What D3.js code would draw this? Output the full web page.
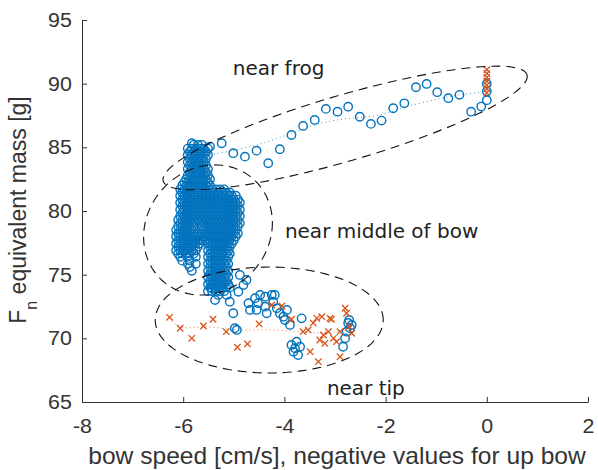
<!DOCTYPE html>
<html><head><meta charset="utf-8">
<script src="https://cdn.jsdelivr.net/npm/d3@7"></script>
<style>body{margin:0;background:#fff;} svg{display:block;}</style>
</head><body>
<svg id="chart" width="598" height="470"></svg>
<script>
// ---------- data ----------
const xTicks = [-8, -6, -4, -2, 0, 2];
const yTicks = [65, 70, 75, 80, 85, 90, 95];
const xLabelText = "bow speed [cm/s], negative values for up bow";
const yLabelMain = "F";
const yLabelSub = "n";
const yLabelRest = " equivalent mass [g]";

// blue circles along the frog part of the stroke
const blueFrog = [
  [-5.83,85.32],[-5.47,85.06],[-5.24,85.32],[-5.01,84.54],[-4.78,84.27],[-4.55,84.74],
  [-4.32,83.75],[-4.09,84.85],[-3.86,85.97],[-3.63,86.68],[-3.40,87.15],[-3.18,88.02],
  [-2.95,87.80],[-2.74,88.19],[-2.51,87.40],[-2.29,86.84],[-2.08,87.10],[-1.85,88.07],
  [-1.63,88.46],[-1.40,89.72],[-1.19,89.98],[-0.98,89.33],[-0.76,88.86],[-0.54,89.12],
  [-0.31,87.80],[-0.11,88.20],[0,88.70],[0,89.40],[0,90.00]
];

// dense blue cluster around the middle of the bow: rows of [y, x values]
const blueClusterRows = [
  [85.2, [-5.79,-5.71,-5.63]],
  [84.9, [-5.91,-5.83,-5.75,-5.67,-5.59,-5.51]],
  [84.65,[-5.87,-5.79,-5.71,-5.63,-5.55]],
  [84.4, [-5.91,-5.83,-5.75,-5.67,-5.59,-5.51]],
  [84.1, [-5.87,-5.79,-5.71,-5.63,-5.55]],
  [83.85,[-5.91,-5.83,-5.75,-5.67,-5.59]],
  [83.6, [-5.87,-5.79,-5.71,-5.63,-5.55]],
  [83.3, [-5.91,-5.83,-5.75,-5.67,-5.59,-5.51]],
  [83.05,[-5.87,-5.79,-5.71,-5.63,-5.55]],
  [82.8, [-5.91,-5.83,-5.75,-5.67,-5.59,-5.51]],
  [82.5, [-5.94,-5.87,-5.79,-5.71,-5.63,-5.55,-5.47]],
  [82.25,[-5.98,-5.91,-5.83,-5.75,-5.67,-5.59,-5.51]],
  [82.0, [-6.02,-5.94,-5.87,-5.79,-5.71,-5.63,-5.55,-5.47]],
  [81.7, [-6.06,-5.98,-5.91,-5.83,-5.75,-5.67,-5.59,-5.51,-5.43,-5.35,-5.27,-5.19]],
  [81.45,[-6.02,-5.94,-5.87,-5.79,-5.71,-5.63,-5.55,-5.47,-5.39,-5.31,-5.23,-5.15,-5.08]],
  [81.2, [-6.06,-5.98,-5.91,-5.83,-5.75,-5.67,-5.59,-5.51,-5.43,-5.35,-5.27,-5.19,-5.11,-5.04,-4.96]],
  [80.9, [-6.02,-5.94,-5.87,-5.79,-5.71,-5.63,-5.55,-5.47,-5.39,-5.31,-5.23,-5.15,-5.08,-5.00,-4.92]],
  [80.65,[-6.06,-5.98,-5.91,-5.83,-5.75,-5.67,-5.59,-5.51,-5.43,-5.35,-5.27,-5.19,-5.11,-5.04,-4.96,-4.88]],
  [80.4, [-6.02,-5.94,-5.87,-5.79,-5.71,-5.63,-5.55,-5.47,-5.39,-5.31,-5.23,-5.15,-5.08,-5.00,-4.92]],
  [80.1, [-6.06,-5.98,-5.91,-5.83,-5.75,-5.67,-5.59,-5.51,-5.43,-5.35,-5.27,-5.19,-5.11,-5.04,-4.96,-4.88]],
  [79.85,[-6.02,-5.94,-5.87,-5.79,-5.71,-5.63,-5.55,-5.47,-5.39,-5.31,-5.23,-5.15,-5.08,-5.00,-4.92]],
  [79.6, [-6.06,-5.98,-5.91,-5.83,-5.75,-5.67,-5.59,-5.51,-5.43,-5.35,-5.27,-5.19,-5.11,-5.04,-4.96,-4.88]],
  [79.3, [-6.10,-6.02,-5.94,-5.87,-5.79,-5.71,-5.63,-5.55,-5.47,-5.39,-5.31,-5.23,-5.15,-5.08,-5.00,-4.92]],
  [79.05,[-6.06,-5.98,-5.91,-5.83,-5.75,-5.67,-5.59,-5.51,-5.43,-5.35,-5.27,-5.19,-5.11,-5.04,-4.96,-4.88]],
  [78.8, [-6.10,-6.02,-5.94,-5.87,-5.79,-5.63,-5.55,-5.47,-5.39,-5.31,-5.23,-5.15,-5.08,-5.00,-4.92]],
  [78.5, [-6.14,-6.06,-5.98,-5.91,-5.83,-5.59,-5.51,-5.43,-5.35,-5.27,-5.19,-5.11,-5.04,-4.96]],
  [78.25,[-6.10,-6.02,-5.94,-5.87,-5.79,-5.71,-5.63,-5.55,-5.47,-5.39,-5.31,-5.23,-5.15,-5.08,-5.00,-4.92]],
  [78.0, [-6.14,-6.06,-5.98,-5.91,-5.83,-5.75,-5.67,-5.59,-5.51,-5.43,-5.35,-5.27,-5.19,-5.11,-5.04,-4.96]],
  [77.7, [-6.10,-6.02,-5.94,-5.87,-5.79,-5.71,-5.63,-5.55,-5.47,-5.39,-5.31,-5.23,-5.15,-5.08,-5.00]],
  [77.45,[-6.14,-6.06,-5.98,-5.91,-5.83,-5.75,-5.67,-5.51,-5.43,-5.35,-5.27,-5.19,-5.11,-5.04]],
  [77.2, [-6.10,-6.02,-5.94,-5.87,-5.79,-5.71,-5.47,-5.39,-5.31,-5.23,-5.15,-5.08]],
  [76.9, [-6.14,-6.06,-5.98,-5.91,-5.83,-5.75,-5.51,-5.43,-5.35,-5.27,-5.19,-5.11]],
  [76.65,[-6.10,-6.02,-5.94,-5.87,-5.79,-5.47,-5.39,-5.31,-5.23,-5.15,-5.08]],
  [76.4, [-6.06,-5.91,-5.75,-5.51,-5.43,-5.35,-5.27,-5.19,-5.11]],
  [76.1, [-6.02,-5.87,-5.47,-5.39,-5.31,-5.23,-5.15]],
  [75.85,[-5.91,-5.75,-5.51,-5.43,-5.35,-5.27,-5.19,-5.11]],
  [75.6, [-5.87,-5.47,-5.39,-5.31,-5.23,-5.15]],
  [75.3, [-5.83,-5.51,-5.43,-5.35,-5.27,-5.19,-5.11]],
  [75.05,[-5.47,-5.39,-5.31,-5.23,-5.15]],
  [74.8, [-5.51,-5.43,-5.35,-5.27,-5.19,-5.11]],
  [74.5, [-5.47,-5.39,-5.31,-5.23,-5.15]],
  [74.25,[-5.51,-5.43,-5.35,-5.27,-5.19,-5.11]],
  [74.0, [-5.47,-5.39,-5.31,-5.23,-5.15,-5.08]],
  [73.7, [-5.51,-5.43,-5.35,-5.27,-5.19]]
];

// blue circles near the tip
const blueTip = [
  [-5.44,73.93],[-5.31,73.41],[-5.37,73.01],[-5.14,73.41],[-5.08,72.88],[-4.91,73.66],
  [-4.81,74.19],[-4.88,74.98],[-4.75,74.58],[-5.01,71.97],[-4.98,70.79],[-4.94,70.66],
  [-4.71,72.76],[-4.58,73.15],[-4.48,73.41],[-4.38,73.27],[-4.25,73.41],[-4.19,73.41],
  [-4.68,72.23],[-4.52,72.76],[-4.55,72.23],[-4.38,72.49],[-4.35,71.97],[-4.22,72.88],
  [-4.15,72.36],[-4.09,71.97],[-4.02,71.70],[-3.95,72.23],[-3.89,71.05],[-3.99,71.44],
  [-3.66,71.57],[-3.86,69.48],[-3.79,69.22],[-3.82,68.95],[-3.73,68.69],[-3.76,69.74],
  [-3.69,69.34],[-2.74,71.21],[-2.70,70.79],[-2.77,70.52],[-2.80,70.00],[-2.84,69.34],
  [-2.72,71.44],[-2.67,71.05]
];

// orange crosses
const orangeTip = [
  [-6.27,71.65],[-6.06,70.79],[-5.83,70.00],[-5.60,70.97],[-5.41,71.50],[-5.15,70.52],
  [-4.93,69.30],[-4.73,69.56],[-4.50,71.13],[-4.25,72.62],[-4.05,72.54],[-3.86,71.50],
  [-3.63,70.52],[-3.53,70.66],[-3.49,68.95],[-3.43,71.21],[-3.36,71.57],[-3.26,71.70],
  [-3.23,70.26],[-3.30,69.87],[-3.20,69.61],[-3.10,71.57],[-3.07,71.50],[-3.13,70.52],
  [-3.03,70.00],[-2.97,69.74],[-2.90,68.56],[-2.80,72.36],[-2.77,71.97],[-2.72,70.92],
  [-2.67,70.40],[-3.33,68.17],[-2.90,70.52]
];
const orangeFrog = [[0,91.1],[0,90.8],[0,90.5],[0,90.2],[0,89.9],[0,89.6],[0,89.3]];

// dotted trend curves
const trendBlue = [[-5.47,84.40],[-4.54,85.19],[-3.16,87.00],[-2.11,87.55],[-1.46,88.33],[-0.53,89.12],[0,89.35]];
const trendOrange = [[-6.28,71.60],[-6.06,70.90],[-5.54,70.90],[-4.88,70.66],[-4.23,70.66],[-3.69,70.52],[-3.24,70.42],[-2.70,70.66]];

// annotation ellipses: centre and two conjugate semi-axis vectors, in data units
const ellipses = [
  {c:[-2.80,86.52], u:[3.595,4.17], v:[0.18,-2.49]},
  {c:[-5.51,78.51], u:[1.265,0], v:[0.138,5.11]},
  {c:[-4.30,71.44], u:[2.253,0], v:[0,4.16]}
];
const annotations = [
  {text:"near frog", x:-5.02, y:90.69},
  {text:"near middle of bow", x:-3.99, y:77.88},
  {text:"near tip", x:-3.16, y:65.55}
];

// ---------- drawing ----------
const BLUE = "#0072BD", ORANGE = "#D95319", AXIS = "#333333";
const svg = d3.select("#chart");
const x = d3.scaleLinear().domain([-8, 2]).range([82, 588]);
const y = d3.scaleLinear().domain([65, 95]).range([402, 20]);

const blueCluster = blueClusterRows.flatMap(([yy, xs]) => xs.map(xx => [xx, yy]));
const allBlue = blueFrog.concat(blueCluster, blueTip);
const allOrange = orangeTip.concat(orangeFrog);

const line = d3.line().x(d => x(d[0])).y(d => y(d[1])).curve(d3.curveCatmullRom);

// trend lines
svg.append("path").attr("d", line(trendBlue)).attr("fill","none")
  .attr("stroke", BLUE).attr("stroke-width",1).attr("stroke-dasharray","1,3").attr("opacity",0.75);
svg.append("path").attr("d", line(trendOrange)).attr("fill","none")
  .attr("stroke", ORANGE).attr("stroke-width",1).attr("stroke-dasharray","1,3").attr("opacity",0.75);

// blue circles
svg.append("g").selectAll("circle").data(allBlue).join("circle")
  .attr("cx", d => x(d[0])).attr("cy", d => y(d[1])).attr("r", 4.2)
  .attr("fill","none").attr("stroke", BLUE).attr("stroke-width", 1.4);

// orange crosses
svg.append("g").selectAll("path").data(allOrange).join("path")
  .attr("transform", d => `translate(${x(d[0])},${y(d[1])})`)
  .attr("d","M-3.2,-3.2L3.2,3.2M-3.2,3.2L3.2,-3.2")
  .attr("fill","none").attr("stroke", ORANGE).attr("stroke-width", 1.3);

// ellipses
const ts = d3.range(0, 361, 3).map(a => a * Math.PI / 180);
svg.append("g").selectAll("path").data(ellipses).join("path")
  .attr("d", e => d3.line()(ts.map(t => [
      x(e.c[0] + Math.cos(t)*e.u[0] + Math.sin(t)*e.v[0]),
      y(e.c[1] + Math.cos(t)*e.u[1] + Math.sin(t)*e.v[1])])) + "Z")
  .attr("fill","none").attr("stroke","#111").attr("stroke-width",1.1)
  .attr("stroke-dasharray","9,6");

// axes (plain hyphen-minus like the original)
const fmt = d => String(d);
const xAxis = d3.axisBottom(x).tickValues(xTicks).tickFormat(fmt).tickSize(-5).tickSizeOuter(0).tickPadding(17);
const yAxis = d3.axisLeft(y).tickValues(yTicks).tickFormat(fmt).tickSize(-5).tickSizeOuter(0).tickPadding(9.5);
const gx = svg.append("g").attr("transform","translate(0,402)").call(xAxis);
const gy = svg.append("g").attr("transform","translate(82,0)").call(yAxis);
[gx, gy].forEach(g => {
  g.select(".domain").attr("stroke", AXIS).attr("stroke-width",1);
  g.selectAll(".tick line").attr("stroke", AXIS).attr("stroke-width",1);
  g.selectAll(".tick text").attr("fill","#333").attr("font-family","Liberation Sans, Arial, sans-serif")
    .attr("font-size", 20).attr("transform","scale(1.07,1)");
});

// axis labels
svg.append("text").attr("transform","translate(337,464) scale(1.07,1)")
  .attr("text-anchor","middle").attr("font-family","Liberation Sans, Arial, sans-serif")
  .attr("font-size",23).attr("fill","#333").text(xLabelText);

const yl = svg.append("text").attr("transform","translate(26,210) rotate(-90)")
  .attr("text-anchor","middle").attr("font-family","Liberation Sans, Arial, sans-serif")
  .attr("font-size",23).attr("fill","#333");
yl.append("tspan").text(yLabelMain);
yl.append("tspan").attr("dy",11).attr("font-size",16).text(yLabelSub);
yl.append("tspan").attr("dy",-11).text(yLabelRest);

// annotations
svg.append("g").selectAll("text").data(annotations).join("text")
  .attr("x", d => x(d.x)).attr("y", d => y(d.y))
  .attr("font-family","DejaVu Sans, sans-serif").attr("font-size",20).attr("fill","#222")
  .text(d => d.text);
</script>
</body></html>
